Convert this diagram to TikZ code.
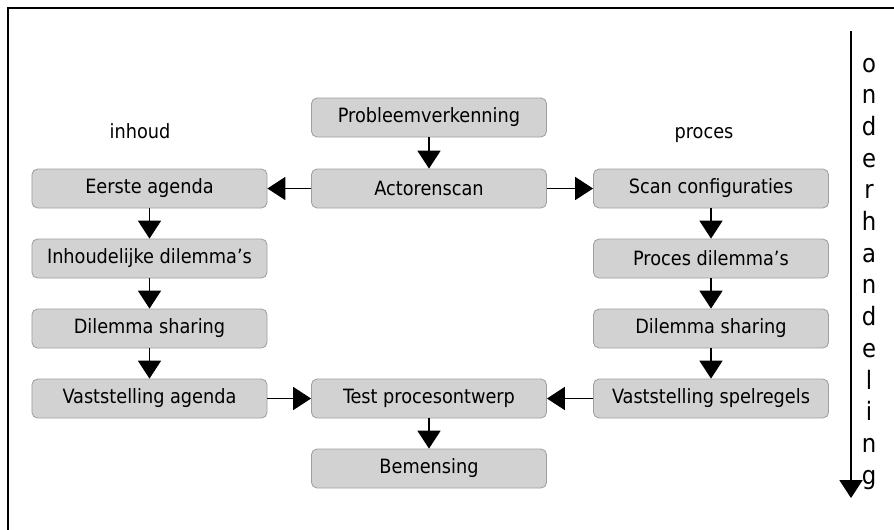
\documentclass[tikz,border=0pt]{standalone}
\usepackage{fontspec}
\setmainfont{DejaVu Sans Condensed}
\usetikzlibrary{arrows.meta}

\begin{document}
\begin{tikzpicture}[
    x=0.025cm,
    y=-0.025cm,
    every node/.style={
        font=\fontsize{14}{17}\selectfont,
    },
    stepbox/.style={
        draw=gray!75,
        fill=gray!35,
        rectangle,
        rounded corners=4pt,
        line width=.6pt,
        inner sep=0pt,
        minimum width=5.875cm,
        minimum height=.975cm,
    },
    flow/.style={
        line width=.8pt,
        -{Triangle[length=.45cm,width=.58cm]},
    },
    letter/.style={
        anchor=base,
        font=\fontsize{18}{20}\selectfont,
    },
]
    \useasboundingbox (0,0) rectangle (894,529);
    % frame
    \draw[line width=1.6pt] (8,540) -- (8,8) -- (900,8);

    \node[anchor=base] (inhoud) at (140,138) {inhoud};
    \node[anchor=base] (proces) at (704,138) {proces};

    \node[stepbox] (probleem) at (429,117.5) {Probleemverkenning};
    \node[stepbox] (actoren) at (429,188.5) {Actorenscan};
    \node[stepbox] (eerste) at (149.5,188.5) {Eerste agenda};
    \node[stepbox] (scan) at (711,188.5) {Scan configuraties};
    \node[stepbox] (inhdil) at (149.5,258.5) {Inhoudelijke dilemma’s};
    \node[stepbox] (prodil) at (711,258.5) {Proces dilemma’s};
    \node[stepbox] (sharel) at (149.5,328.5) {Dilemma sharing};
    \node[stepbox] (sharer) at (711,328.5) {Dilemma sharing};
    \node[stepbox] (agenda) at (149.5,398.5) {Vaststelling agenda};
    \node[stepbox] (test) at (429,398.5) {Test procesontwerp};
    \node[stepbox] (spelregels) at (711,398.5) {Vaststelling spelregels};
    \node[stepbox] (bemensing) at (429,468.5) {Bemensing};

    \draw[flow] (probleem) -- (actoren);
    \draw[flow] (actoren) -- (eerste);
    \draw[flow] (actoren) -- (scan);
    \draw[flow] (eerste) -- (inhdil);
    \draw[flow] (inhdil) -- (sharel);
    \draw[flow] (sharel) -- (agenda);
    \draw[flow] (scan) -- (prodil);
    \draw[flow] (prodil) -- (sharer);
    \draw[flow] (sharer) -- (spelregels);
    \draw[flow] (agenda) -- (test);
    \draw[flow] (spelregels) -- (test);
    \draw[flow] (test) -- (bemensing);

    % onderhandeling
    \coordinate (timetop) at (851,31);
    \coordinate (timeend) at (851,498);
    \draw[flow] (timetop) -- (timeend);
    \foreach \c [count=\i from 0] in {o,n,d,e,r,h,a,n,d,e,l,i,n,g}
    {
        \node[letter] (letter\i) at (869,72+31.7*\i) {\c};
    }
\end{tikzpicture}
\end{document}
